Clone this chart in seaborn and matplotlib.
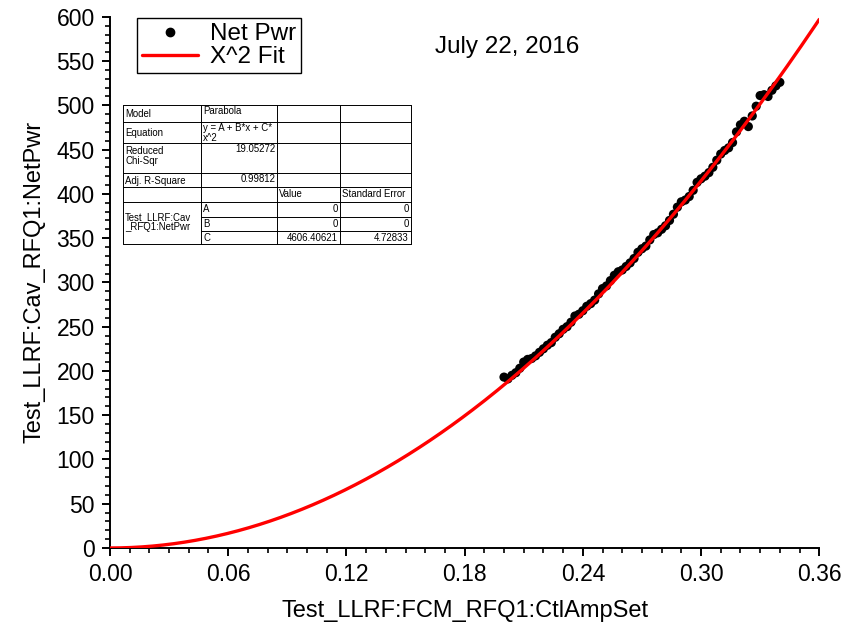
import numpy as np
import pandas as pd
import matplotlib
matplotlib.use("Agg")
import matplotlib.pyplot as plt
import seaborn as sns
from matplotlib.ticker import MultipleLocator, FormatStrFormatter
from matplotlib.lines import Line2D

# Measured control amplitude setpoint vs. net cavity power
ctl_amp = [0.200, 0.202, 0.204, 0.206, 0.208, 0.210, 0.212, 0.214, 0.216, 0.218,
           0.220, 0.222, 0.224, 0.226, 0.228, 0.230, 0.232, 0.234, 0.236, 0.238,
           0.240, 0.242, 0.244, 0.246, 0.248, 0.250, 0.252, 0.254, 0.256, 0.258,
           0.260, 0.262, 0.264, 0.266, 0.268, 0.270, 0.272, 0.274, 0.276, 0.278,
           0.280, 0.282, 0.284, 0.286, 0.288, 0.290, 0.292, 0.294, 0.296, 0.298,
           0.300, 0.302, 0.304, 0.306, 0.308, 0.310, 0.312, 0.314, 0.316, 0.318,
           0.320, 0.322, 0.324, 0.326, 0.328, 0.330, 0.332, 0.334, 0.336, 0.338,
           0.340]
net_pwr = [193, 191, 195, 198, 203, 210, 213, 214, 217, 221,
           225, 229, 232, 238, 242, 247, 250, 255, 262, 264,
           268, 273, 276, 280, 287, 293, 296, 302, 308, 312,
           314, 318, 322, 327, 334, 338, 341, 348, 354, 356,
           360, 364, 370, 377, 385, 391, 393, 397, 404, 413,
           417, 420, 424, 430, 438, 445, 449, 452, 458, 470,
           478, 482, 476, 488, 499, 511, 512, 510, 517, 522,
           526]

# Parabola fit parameters (y = A + B*x + C*x^2)
fit_A = 0.0
fit_B = 0.0
fit_C = 4606.40621

x_ticks = [0.00, 0.06, 0.12, 0.18, 0.24, 0.30, 0.36]
y_ticks = list(range(0, 601, 50))

sns.set_theme(style="ticks")
plt.rcParams["font.family"] = ["Liberation Sans", "DejaVu Sans"]
plt.rcParams["text.color"] = "black"
plt.rcParams["axes.labelcolor"] = "black"
plt.rcParams["xtick.color"] = "black"
plt.rcParams["ytick.color"] = "black"

fig = plt.figure(figsize=(8.66, 6.22), dpi=100)
ax = fig.add_axes([0.127, 0.119, 0.819, 0.854])

data = pd.DataFrame({"x": ctl_amp, "y": net_pwr})
sns.scatterplot(data=data, x="x", y="y", ax=ax, color="black", s=44,
                edgecolor="none", linewidth=0, zorder=2, label="Net Pwr")

fit_x = np.linspace(0, 0.36, 400)
fit = pd.DataFrame({"x": fit_x, "y": fit_A + fit_B * fit_x + fit_C * fit_x ** 2})
sns.lineplot(data=fit, x="x", y="y", ax=ax, color="#ff0000", linewidth=2.4,
             zorder=3, label="X^2 Fit")

ax.set_xlim(0, 0.36)
ax.set_ylim(0, 600)
ax.set_xticks(x_ticks)
ax.set_yticks(y_ticks)
ax.xaxis.set_major_formatter(FormatStrFormatter("%.2f"))
ax.xaxis.set_minor_locator(MultipleLocator(0.01))
ax.yaxis.set_minor_locator(MultipleLocator(10))
for side in ["top", "right"]:
    ax.spines[side].set_visible(False)
for side in ["left", "bottom"]:
    ax.spines[side].set_color("black")
    ax.spines[side].set_linewidth(1.4)
ax.tick_params(axis="both", which="major", direction="out", length=6, width=1.4,
               labelsize=16.5, colors="black", labelcolor="black", pad=5)
ax.tick_params(axis="both", which="minor", direction="out", length=3.5, width=1.2,
               colors="black")
ax.set_xlabel("Test_LLRF:FCM_RFQ1:CtlAmpSet", fontsize=17, labelpad=10,
              color="black")
ax.set_ylabel("Test_LLRF:Cav_RFQ1:NetPwr", fontsize=17, labelpad=8,
              color="black")

handles = [Line2D([], [], marker="o", linestyle="none", color="black", markersize=6),
           Line2D([], [], color="#ff0000", linewidth=2.4)]
leg = ax.legend(handles, ["Net Pwr", "X^2 Fit"], loc="upper left",
                bbox_to_anchor=(0.038, 0.997), fontsize=17.5, frameon=True,
                fancybox=False, borderpad=0.2, handlelength=2.3,
                handletextpad=0.5, labelspacing=0.05, borderaxespad=0)
leg.get_frame().set_edgecolor("black")
leg.get_frame().set_linewidth(1.0)
leg.get_frame().set_alpha(1)
for t in leg.get_texts():
    t.set_color("black")

fig.text(507 / 866, 1 - 47 / 622, "July 22, 2016", fontsize=17.5,
         ha="center", va="center", color="black")

# Fit summary table, laid out in pixel units
W, H = 866, 622
tx0, tx1, ty0, ty1 = 123, 411, 105, 244
tab = fig.add_axes([tx0 / W, 1 - ty1 / H, (tx1 - tx0) / W, (ty1 - ty0) / H])
tab.set_xlim(tx0, tx1)
tab.set_ylim(ty1, ty0)
tab.axis("off")
cols = [123, 201, 277.3, 340, 411]
rows = [105, 121.7, 143.3, 172.7, 187, 201.7, 216.7, 230.7, 244]
lw = 0.7
for xc in cols:
    tab.plot([xc, xc], [ty0, ty1], color="black", lw=lw, clip_on=False)
for i, yr in enumerate(rows):
    if i in (6, 7):
        tab.plot([cols[1], tx1], [yr, yr], color="black", lw=lw, clip_on=False)
    else:
        tab.plot([tx0, tx1], [yr, yr], color="black", lw=lw, clip_on=False)

fs = 6.9
def cell(x, y, s, ha="left"):
    tab.text(x, y, s, fontsize=fs, ha=ha, va="top", color="black",
             linespacing=1.0)

pad = 2.0
cell(cols[0] + pad, rows[0] + 4, "Model")
cell(cols[1] + pad, rows[0] + 1, "Parabola")
cell(cols[0] + pad, rows[1] + 6, "Equation")
cell(cols[1] + pad, rows[1] + 1, "y = A + B*x + C*\nx^2")
cell(cols[0] + pad, rows[2] + 3, "Reduced\nChi-Sqr")
cell(cols[2] - pad, rows[2] + 1, "19.05272", ha="right")
cell(cols[0] + pad, rows[3] + 3, "Adj. R-Square")
cell(cols[2] - pad, rows[3] + 1, "0.99812", ha="right")
cell(cols[2] + pad, rows[4] + 2, "Value")
cell(cols[3] + pad, rows[4] + 2, "Standard Error")
cell(cols[0] + pad, rows[5] + 10, "Test_LLRF:Cav\n_RFQ1:NetPwr")
for k, (lab, val, err) in enumerate([("A", "0", "0"), ("B", "0", "0"),
                                      ("C", "4606.40621", "4.72833")]):
    cell(cols[1] + pad, rows[5 + k] + 2, lab)
    cell(cols[3] - pad, rows[5 + k] + 2, val, ha="right")
    cell(cols[4] - pad, rows[5 + k] + 2, err, ha="right")

fig.savefig("out.png", dpi=100, facecolor="white")
